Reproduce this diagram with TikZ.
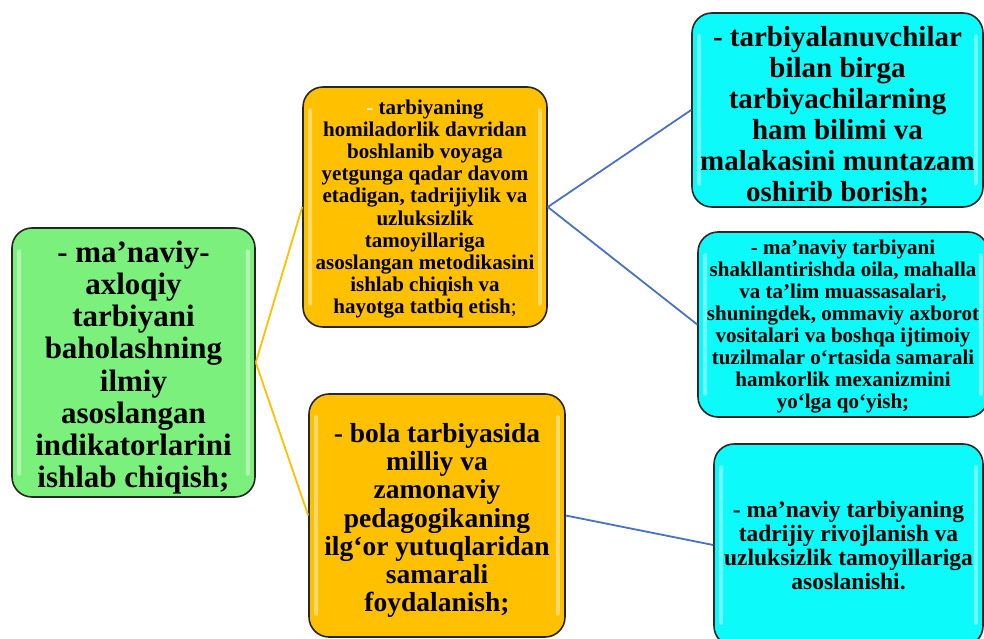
\documentclass[tikz,border=0pt]{standalone}
\usepackage{fontspec}
\setmainfont{Liberation Serif}
\definecolor{gfill}{HTML}{7CF07C}
\definecolor{ofill}{HTML}{FFC000}
\definecolor{cfill}{HTML}{0CFAFA}
\definecolor{bline}{HTML}{4A72C4}
\definecolor{oline}{HTML}{FFC000}
\newcommand{\glossbox}[1]{%
  \fill[white,opacity=0.4,rounded corners=2pt] ([xshift=6pt,yshift=-22pt]#1.north west) rectangle ([xshift=10pt,yshift=22pt]#1.south west);
  \fill[white,opacity=0.4,rounded corners=2pt] ([xshift=-10pt,yshift=-22pt]#1.north east) rectangle ([xshift=-6pt,yshift=22pt]#1.south east);}
\newcommand{\boxfont}[2]{\bfseries\fontsize{#1}{#2}\selectfont\lineskiplimit=-100pt\relax}
\begin{document}
\begin{tikzpicture}[x=1pt,y=-1pt,
  boxstyle/.style={draw=black!85,line width=1.6pt,rounded corners=20pt},
  gbox/.style={boxstyle,fill=gfill},
  obox/.style={boxstyle,fill=ofill},
  cbox/.style={boxstyle,fill=cfill},
  boxtext/.style={align=center,inner sep=0pt},
  oconn/.style={draw=oline,line width=1.8pt},
  bconn/.style={draw=bline,line width=1.8pt}]
\useasboundingbox (0,0) rectangle (984,639);
% boxes
\node[gbox,minimum width=243pt,minimum height=269pt] (g) at (133.5,362.5) {};
\node[obox,minimum width=244pt,minimum height=240pt] (ot) at (425,207) {};
\node[obox,minimum width=256pt,minimum height=243pt] (ob) at (437,515.5) {};
\node[cbox,minimum width=291pt,minimum height=194pt] (ct) at (837.5,110) {};
\node[cbox,minimum width=290pt,minimum height=185pt] (cm) at (843,324.5) {};
\node[cbox,minimum width=269pt,minimum height=202pt] (cb) at (848.5,545) {};
\glossbox{g}\glossbox{ot}\glossbox{ob}\glossbox{ct}\glossbox{cm}\glossbox{cb}
% texts
\node[boxtext,font={\boxfont{31}{32.1}}] (gt) at ([yshift=-5pt]g.center)
  {- ma’naviy-\\axloqiy\\tarbiyani\\baholashning\\ilmiy\\asoslangan\\indikatorlarini\\ishlab chiqish;};
\node[boxtext,font={\boxfont{21}{22.1}}] (ott) at ([yshift=-2pt]ot.center)
  {{\color{white!80!yellow}-} tarbiyaning\\homiladorlik davridan\\boshlanib voyaga\\yetgunga qadar davom\\etadigan, tadrijiylik va\\uzluksizlik\\tamoyillariga\\asoslangan metodikasini\\ishlab chiqish va\\hayotga tatbiq etish{\mdseries;}};
\node[boxtext,font={\boxfont{27.5}{28.3}}] (obt) at ([yshift=-5pt]ob.center)
  {- bola tarbiyasida\\milliy va\\zamonaviy\\pedagogikaning\\ilg‘or yutuqlaridan\\samarali\\foydalanish;};
\node[boxtext,font={\boxfont{29}{31}}] (ctt) at ([yshift=-6pt]ct.center)
  {- tarbiyalanuvchilar\\bilan birga\\tarbiyachilarning\\ham bilimi va\\malakasini muntazam\\oshirib borish;};
\node[boxtext,font={\boxfont{21}{22.1}}] (cmt) at ([yshift=-2pt]cm.center)
  {- ma’naviy tarbiyani\\shakllantirishda oila, mahalla\\va ta’lim muassasalari,\\shuningdek, ommaviy axborot\\vositalari va boshqa ijtimoiy\\tuzilmalar o‘rtasida samarali\\hamkorlik mexanizmini\\yo‘lga qo‘yish;};
\node[boxtext,font={\boxfont{23.5}{24}}] (cbt) at ([yshift=-1pt]cb.center)
  {- ma’naviy tarbiyaning\\tadrijiy rivojlanish va\\uzluksizlik tamoyillariga\\asoslanishi.};
% connectors
\draw[oconn] (g.east) -- (ot.west);
\draw[oconn] (g.east) -- (ob.west);
\draw[bconn] (ot.east) -- (ct.west);
\draw[bconn] (ot.east) -- (cm.west);
\draw[bconn] (ob.east) -- (cb.west);
\end{tikzpicture}
\end{document}
